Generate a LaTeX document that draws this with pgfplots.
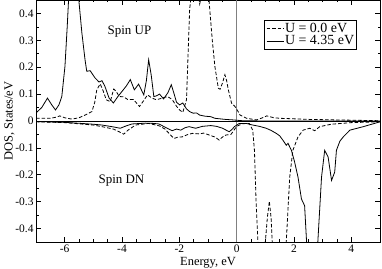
\documentclass[border=0pt]{standalone}
\usepackage{fontspec}
\setmainfont{Liberation Serif}
\usepackage{pgfplots}
\pgfplotsset{compat=1.18}
\begin{document}
\begin{tikzpicture}
\begin{axis}[
  scale only axis, width=344bp, height=242bp,
  xmin=-7, xmax=5, ymin=-0.45, ymax=0.45,
  xtick={-6,-4,-2,0,2,4},
  ytick={-0.4,-0.3,-0.2,-0.1,0,0.1,0.2,0.3,0.4},
  yticklabels={-0.4,-0.3,-0.2,-0.1,0,0.1,0.2,0.3,0.4},
  xticklabels={-6,-4,-2,0,2,4},
  minor x tick num=3, minor y tick num=1,
  tick align=inside, ticks=both,
  xtick pos=both, ytick pos=both,
  major tick length=5bp, minor tick length=2.5bp,
  every tick/.style={black, line width=0.6bp},
  axis line style={line width=0.8bp},
  tick label style={font=\fontsize{11.5}{13}\selectfont},
  xticklabel style={yshift=1bp},
  yticklabel style={xshift=1bp},
  label style={font=\fontsize{12.5}{14}\selectfont},
  xlabel={Energy, eV}, ylabel={DOS, States/eV},
  xlabel style={yshift=2bp},
  ylabel style={yshift=-6bp},
  legend style={at={(0.933,0.917)}, anchor=north east, draw=black, line width=0.6bp,
    font=\fontsize{14}{15}\selectfont, inner sep=1.5bp, row sep=0bp,
    nodes={inner sep=1bp},
    legend cell align=left},
  legend image post style={line width=0.8bp},
  clip=true,
]
\addplot[gray, line width=0.8bp, forget plot] coordinates {(0,-0.45) (0,0.45)};
\addplot[black, line width=0.8bp, forget plot] coordinates {(-7,0) (5,0)};
% U = 0.0 spin up
\addplot[black, line width=0.8bp, dash pattern=on 3.5bp off 2bp] coordinates {
(-7,0.010) (-6.5,0.010) (-6.3,0.014) (-6.17,0.019) (-6.0,0.012) (-5.75,0.007) (-5.5,0.012)
(-5.29,0.022) (-5.05,0.035) (-4.95,0.07) (-4.88,0.116) (-4.76,0.138) (-4.65,0.11) (-4.55,0.079)
(-4.41,0.072) (-4.29,0.119) (-4.2,0.11) (-4.1,0.091) (-3.95,0.09) (-3.8,0.08) (-3.6,0.08)
(-3.39,0.054) (-3.25,0.075) (-3.11,0.097) (-2.95,0.085) (-2.8,0.079) (-2.6,0.085) (-2.41,0.091)
(-2.25,0.08) (-2.1,0.055) (-1.99,0.041) (-1.88,0.032) (-1.75,0.079) (-1.64,0.416) (-1.55,0.5)
(-1.45,0.55) (-1.33,0.46) (-1.29,0.435) (-1.22,0.47) (-1.1,0.52) (-1.0,0.5) (-0.94,0.416)
(-0.85,0.3) (-0.76,0.203) (-0.64,0.122) (-0.58,0.118) (-0.5,0.14) (-0.41,0.172) (-0.35,0.15)
(-0.29,0.116) (-0.18,0.067) (-0.06,0.054) (0.05,0.035) (0.12,0.022) (0.35,0.01) (0.7,0.004)
(0.9,0.012) (1.05,0.019) (1.3,0.012) (1.52,0.010) (2.5,0.006) (3.5,0.004) (5,0.001)};
\addlegendentry{U = 0.0 eV}
% U = 4.35 spin up
\addplot[black, line width=0.8bp] coordinates {
(-7.0,0.030) (-6.8,0.050) (-6.6,0.085) (-6.45,0.06) (-6.32,0.041) (-6.2,0.06) (-6.1,0.091)
(-5.99,0.203) (-5.91,0.353) (-5.85,0.48) (-5.75,0.58) (-5.65,0.6) (-5.55,0.50) (-5.4,0.328)
(-5.29,0.228) (-5.23,0.185) (-5.11,0.187) (-4.94,0.16) (-4.8,0.145) (-4.70,0.15) (-4.6,0.13)
(-4.45,0.085) (-4.3,0.067) (-4.15,0.09) (-4.0,0.11) (-3.85,0.13) (-3.71,0.154) (-3.57,0.116)
(-3.42,0.137) (-3.24,0.097) (-3.15,0.15) (-3.07,0.228) (-2.98,0.17) (-2.89,0.091) (-2.81,0.093)
(-2.69,0.10) (-2.55,0.082) (-2.4,0.105) (-2.28,0.135) (-2.18,0.1) (-2.1,0.070) (-1.99,0.06)
(-1.88,0.067) (-1.75,0.045) (-1.64,0.035) (-1.52,0.029) (-1.4,0.03) (-1.29,0.022) (-1.11,0.018)
(-0.9,0.016) (-0.76,0.01) (-0.4,0.006) (-0.12,0.004) (0.2,0.001) (1,0) (5,0)};
\addlegendentry{U = 4.35 eV}
% U = 0.0 spin down
\addplot[black, line width=0.8bp, dash pattern=on 3.5bp off 2bp, forget plot] coordinates {
(-7,-0.003) (-6,-0.006) (-5,-0.015) (-4.7,-0.021) (-4.3,-0.03) (-4.1,-0.04) (-3.94,-0.049)
(-3.8,-0.035) (-3.53,-0.015) (-3.07,-0.009) (-2.7,-0.018) (-2.5,-0.03) (-2.36,-0.046)
(-2.19,-0.065) (-2.05,-0.06) (-1.9,-0.059) (-1.7,-0.05) (-1.54,-0.046) (-1.3,-0.048)
(-1.15,-0.045) (-0.96,-0.052) (-0.75,-0.06) (-0.61,-0.071) (-0.5,-0.06) (-0.37,-0.052)
(-0.2,-0.05) (-0.1,-0.035) (0,-0.02) (0.2,-0.01) (0.44,-0.009) (0.56,-0.034) (0.62,-0.109)
(0.68,-0.308) (0.74,-0.446) (0.8,-0.55) (0.9,-0.55) (1.0,-0.45) (1.07,-0.36) (1.14,-0.298)
(1.2,-0.36) (1.24,-0.45) (1.35,-0.6) (1.6,-0.6) (1.73,-0.45) (1.85,-0.209) (1.96,-0.109)
(2.14,-0.059) (2.32,-0.034) (2.55,-0.027) (2.72,-0.036) (2.9,-0.021) (3.3,-0.012) (4,-0.006)
(5,-0.003)};
% U = 4.35 spin down
\addplot[black, line width=0.8bp, forget plot] coordinates {
(-7,-0.002) (-6,-0.005) (-5,-0.012) (-4.7,-0.015) (-4.3,-0.022) (-4.06,-0.027) (-3.9,-0.02)
(-3.65,-0.011) (-3.18,-0.008) (-2.9,-0.009) (-2.71,-0.011) (-2.55,-0.02) (-2.42,-0.027)
(-2.25,-0.036) (-2.1,-0.03) (-1.95,-0.034) (-1.8,-0.025) (-1.66,-0.021) (-1.43,-0.027)
(-1.2,-0.02) (-0.9,-0.017) (-0.7,-0.02) (-0.49,-0.027) (-0.35,-0.035) (-0.26,-0.04)
(-0.15,-0.03) (-0.08,-0.021) (0.09,-0.009) (0.33,-0.009) (0.56,-0.015) (0.8,-0.02)
(1.03,-0.027) (1.2,-0.035) (1.38,-0.046) (1.5,-0.055) (1.61,-0.071) (1.73,-0.09) (1.79,-0.083)
(1.91,-0.109) (2.02,-0.152) (2.14,-0.209) (2.26,-0.29) (2.37,-0.315) (2.43,-0.433) (2.5,-0.55)
(2.65,-0.6) (2.78,-0.55) (2.84,-0.433) (2.96,-0.209) (3.07,-0.109) (3.19,-0.134) (3.31,-0.221)
(3.42,-0.19) (3.48,-0.109) (3.6,-0.075) (3.72,-0.059) (3.95,-0.034) (4.42,-0.021) (5,-0.003)};
\node[font=\fontsize{13}{15}\selectfont] at (axis cs:-3.74,0.333) {Spin UP};
\node[font=\fontsize{13}{15}\selectfont] at (axis cs:-4.02,-0.221) {Spin DN};
\end{axis}
\pgfresetboundingbox
\path[use as bounding box] ([xshift=-36bp,yshift=-27bp]current axis.south west) rectangle ([xshift=2bp]current axis.north east);
\end{tikzpicture}
\end{document}
